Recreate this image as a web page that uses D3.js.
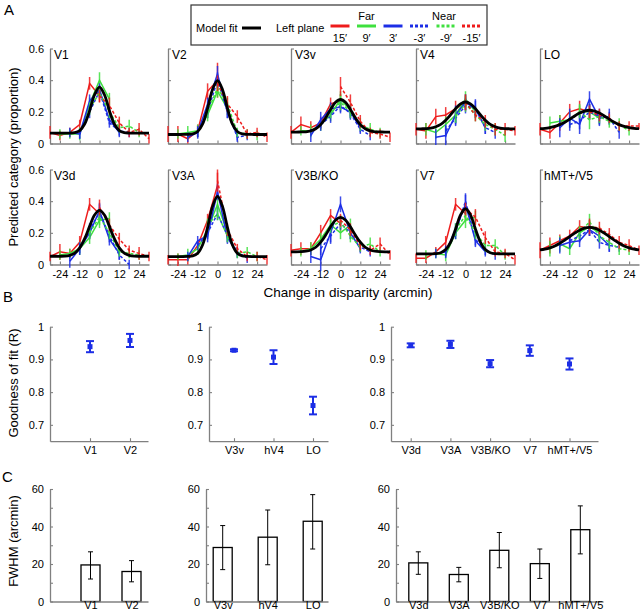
<!DOCTYPE html>
<html><head><meta charset="utf-8">
<script src="https://cdn.jsdelivr.net/npm/d3@7"></script>
<style>body{margin:0;background:#fff}svg{display:block}</style>
</head><body><svg id="c" width="640" height="614"></svg>
<script>
// ---------------- DATA ----------------
const areaNames = ["V1","V2","V3v","V4","LO","V3d","V3A","V3B/KO","V7","hMT+/V5"];
const disparityTicks = [-24,-12,0,12,24];
const propTicks = [0,0.2,0.4,0.6];
const planeLabels = ["15′","9′","3′","-3′","-9′","-15′"];
// x positions (change in disparity) of each plane's test points
const planeX = [
  [-30,-24,-18,-12,-6,0],
  [-24,-18,-12,-6,0,6],
  [-18,-12,-6,0,6,12],
  [-12,-6,0,6,12,18],
  [-6,0,6,12,18,24],
  [0,6,12,18,24,30]
];
// one row per area (order of areaNames)
const far15 = [
  [0.07,0.05,0.07,0.12,0.38,0.30],[0.06,0.06,0.03,0.08,0.33,0.40],[0.07,0.12,0.10,0.13,0.25,0.27],
  [0.09,0.08,0.17,0.18,0.22,0.26],[0.09,0.07,0.13,0.20,0.22,0.20],[0.05,0.08,0.07,0.14,0.38,0.32],
  [0.03,0.03,0.03,0.12,0.28,0.50],[0.09,0.10,0.10,0.20,0.31,0.26],[0.04,0.04,0.08,0.14,0.38,0.32],
  [0.09,0.12,0.15,0.18,0.24,0.23]];
const far15Err = [
  [0.04,0.03,0.03,0.03,0.04,0.04],[0.05,0.05,0.03,0.04,0.05,0.11],[0.04,0.05,0.04,0.04,0.04,0.04],
  [0.04,0.05,0.05,0.05,0.05,0.05],[0.04,0.04,0.05,0.05,0.05,0.05],[0.03,0.05,0.03,0.04,0.04,0.04],
  [0.03,0.04,0.03,0.03,0.04,0.08],[0.04,0.04,0.04,0.05,0.04,0.05],[0.03,0.03,0.03,0.04,0.04,0.04],
  [0.05,0.05,0.04,0.04,0.04,0.05]];
const far9 = [
  [0.06,0.06,0.06,0.25,0.40,0.28],[0.06,0.07,0.08,0.18,0.33,0.22],[0.08,0.08,0.12,0.18,0.28,0.21],
  [0.09,0.07,0.12,0.18,0.28,0.20],[0.13,0.14,0.15,0.20,0.20,0.16],[0.06,0.07,0.10,0.17,0.28,0.29],
  [0.05,0.06,0.10,0.22,0.38,0.20],[0.08,0.10,0.16,0.25,0.20,0.25],[0.06,0.07,0.06,0.20,0.28,0.30],
  [0.10,0.13,0.10,0.20,0.24,0.20]];
const far9Err = [
  [0.03,0.03,0.04,0.04,0.05,0.04],[0.03,0.04,0.04,0.04,0.04,0.04],[0.03,0.04,0.04,0.04,0.05,0.04],
  [0.04,0.04,0.05,0.05,0.05,0.04],[0.04,0.04,0.05,0.05,0.05,0.04],[0.03,0.03,0.04,0.04,0.05,0.04],
  [0.02,0.04,0.04,0.05,0.05,0.04],[0.03,0.04,0.04,0.04,0.04,0.04],[0.03,0.03,0.04,0.04,0.05,0.04],
  [0.05,0.05,0.04,0.04,0.04,0.04]];
const far3 = [
  [0.07,0.06,0.27,0.34,0.15,0.07],[0.04,0.07,0.25,0.44,0.20,0.05],[0.05,0.15,0.22,0.23,0.20,0.10],
  [0.04,0.05,0.18,0.26,0.22,0.10],[0.10,0.16,0.12,0.28,0.16,0.17],[0.02,0.10,0.20,0.34,0.16,0.07],
  [0.05,0.15,0.18,0.46,0.17,0.07],[0.05,0.03,0.20,0.38,0.20,0.10],[0.07,0.08,0.22,0.38,0.15,0.08],
  [0.12,0.14,0.15,0.22,0.18,0.12]];
const far3Err = [
  [0.03,0.03,0.04,0.04,0.03,0.03],[0.03,0.04,0.04,0.05,0.04,0.03],[0.04,0.05,0.04,0.04,0.04,0.03],
  [0.05,0.06,0.06,0.05,0.06,0.04],[0.06,0.06,0.06,0.05,0.05,0.05],[0.04,0.04,0.04,0.05,0.04,0.04],
  [0.03,0.03,0.04,0.05,0.04,0.03],[0.04,0.07,0.06,0.05,0.04,0.03],[0.03,0.04,0.04,0.06,0.04,0.03],
  [0.05,0.04,0.04,0.04,0.04,0.04]];
const near3 = [
  [0.06,0.20,0.33,0.13,0.08,0.07],[0.07,0.20,0.40,0.20,0.04,0.05],[0.12,0.17,0.24,0.19,0.09,0.05],
  [0.08,0.16,0.24,0.22,0.10,0.07],[0.12,0.14,0.20,0.17,0.16,0.07],[0.10,0.22,0.33,0.18,0.06,0.00],
  [0.12,0.20,0.32,0.18,0.08,0.04],[0.10,0.18,0.26,0.20,0.11,0.08],[0.08,0.20,0.40,0.16,0.09,0.06],
  [0.15,0.18,0.22,0.14,0.12,0.11]];
const near3Err = [
  [0.03,0.04,0.04,0.03,0.03,0.03],[0.03,0.04,0.05,0.04,0.03,0.03],[0.04,0.04,0.04,0.04,0.03,0.03],
  [0.04,0.05,0.05,0.05,0.04,0.04],[0.04,0.05,0.05,0.05,0.04,0.04],[0.03,0.04,0.05,0.04,0.03,0.03],
  [0.03,0.04,0.04,0.04,0.03,0.03],[0.04,0.05,0.04,0.04,0.03,0.03],[0.03,0.04,0.05,0.04,0.03,0.03],
  [0.04,0.04,0.04,0.04,0.04,0.03]];
const near9 = [
  [0.22,0.32,0.20,0.10,0.11,0.07],[0.20,0.35,0.25,0.07,0.06,0.05],[0.20,0.26,0.20,0.12,0.09,0.07],
  [0.17,0.25,0.18,0.12,0.09,0.05],[0.20,0.15,0.17,0.14,0.12,0.08],[0.20,0.30,0.20,0.08,0.07,0.06],
  [0.25,0.32,0.18,0.07,0.08,0.05],[0.24,0.27,0.18,0.11,0.13,0.08],[0.22,0.31,0.20,0.12,0.12,0.06],
  [0.20,0.27,0.18,0.14,0.10,0.09]];
const near9Err = [
  [0.04,0.04,0.04,0.03,0.04,0.03],[0.04,0.04,0.04,0.03,0.03,0.03],[0.04,0.05,0.04,0.04,0.04,0.03],
  [0.04,0.05,0.04,0.04,0.04,0.04],[0.04,0.06,0.04,0.04,0.04,0.03],[0.04,0.05,0.04,0.03,0.03,0.03],
  [0.04,0.04,0.04,0.03,0.03,0.03],[0.04,0.04,0.04,0.03,0.04,0.03],[0.04,0.04,0.04,0.04,0.04,0.03],
  [0.04,0.05,0.04,0.04,0.04,0.03]];
const near15 = [
  [0.30,0.24,0.13,0.07,0.09,0.03],[0.38,0.25,0.17,0.06,0.07,0.04],[0.36,0.26,0.14,0.07,0.06,0.04],
  [0.26,0.18,0.14,0.09,0.09,0.08],[0.20,0.18,0.16,0.11,0.11,0.11],[0.36,0.25,0.16,0.09,0.07,0.05],
  [0.53,0.22,0.10,0.05,0.05,0.03],[0.28,0.22,0.12,0.09,0.13,0.06],[0.35,0.30,0.17,0.08,0.07,0.03],
  [0.24,0.23,0.19,0.14,0.12,0.09]];
const near15Err = [
  [0.04,0.05,0.04,0.03,0.04,0.03],[0.05,0.05,0.04,0.03,0.03,0.03],[0.06,0.05,0.04,0.03,0.03,0.03],
  [0.05,0.04,0.04,0.04,0.04,0.03],[0.04,0.04,0.03,0.03,0.03,0.02],[0.05,0.04,0.04,0.03,0.04,0.03],
  [0.07,0.04,0.03,0.03,0.03,0.03],[0.04,0.04,0.03,0.03,0.04,0.03],[0.04,0.05,0.04,0.03,0.03,0.03],
  [0.05,0.04,0.04,0.04,0.04,0.03]];
// model fit sampled every 3 arcmin
const fitX = [-30,-27,-24,-21,-18,-15,-12,-9,-6,-3,0,3,6,9,12,15,18,21,24,27,30];
const modelFit = [
  [0.066,0.066,0.066,0.066,0.066,0.069,0.082,0.123,0.207,0.308,0.356,0.308,0.207,0.123,0.082,0.069,0.066,0.066,0.066,0.066,0.066],
  [0.057,0.057,0.057,0.057,0.058,0.061,0.076,0.124,0.223,0.341,0.397,0.341,0.223,0.124,0.076,0.061,0.058,0.057,0.057,0.057,0.057],
  [0.072,0.072,0.073,0.074,0.080,0.093,0.119,0.162,0.215,0.260,0.278,0.260,0.215,0.162,0.119,0.093,0.080,0.074,0.073,0.072,0.072],
  [0.092,0.093,0.094,0.097,0.106,0.121,0.147,0.182,0.220,0.250,0.262,0.250,0.220,0.182,0.147,0.121,0.106,0.097,0.094,0.093,0.092],
  [0.094,0.096,0.101,0.108,0.119,0.134,0.153,0.174,0.192,0.205,0.210,0.205,0.192,0.174,0.153,0.134,0.119,0.108,0.101,0.096,0.094],
  [0.052,0.052,0.052,0.053,0.058,0.072,0.105,0.163,0.241,0.313,0.342,0.313,0.241,0.163,0.105,0.072,0.058,0.053,0.052,0.052,0.052],
  [0.050,0.050,0.050,0.050,0.051,0.054,0.071,0.125,0.235,0.367,0.430,0.367,0.235,0.125,0.071,0.054,0.051,0.050,0.050,0.050,0.050],
  [0.080,0.080,0.081,0.084,0.092,0.109,0.141,0.186,0.238,0.281,0.298,0.281,0.238,0.186,0.141,0.109,0.092,0.084,0.081,0.080,0.080],
  [0.067,0.067,0.067,0.067,0.068,0.074,0.094,0.142,0.224,0.313,0.352,0.313,0.224,0.142,0.094,0.074,0.068,0.067,0.067,0.067,0.067],
  [0.092,0.097,0.105,0.117,0.134,0.154,0.176,0.198,0.217,0.230,0.235,0.230,0.217,0.198,0.176,0.154,0.134,0.117,0.105,0.097,0.092]
];

// Panel B / C
const catsEarly = ["V1","V2"];
const catsVentral = ["V3v","hV4","LO"];
const catsDorsal = ["V3d","V3A","V3B/KO","V7","hMT+/V5"];
const gofEarly = [0.939,0.958];        const gofEarlyErr = [0.017,0.020];
const gofVentral = [0.928,0.907,0.759]; const gofVentralErr = [0.003,0.021,0.027];
const gofDorsal = [0.943,0.946,0.887,0.927,0.886]; const gofDorsalErr = [0.006,0.011,0.011,0.016,0.017];
const gofTicks = [0.7,0.8,0.9,1];
const fwhmEarly = [19.5,16.0];           const fwhmEarlyLo = [12.0,10.5];  const fwhmEarlyHi = [26.5,21.8];
const fwhmVentral = [28.8,34.3,42.8];    const fwhmVentralLo = [17.0,19.6,28.0]; const fwhmVentralHi = [40.5,48.8,57.0];
const fwhmDorsal = [20.6,14.4,27.3,20.2,38.3]; const fwhmDorsalLo = [14.5,10.5,18.0,12.3,25.4]; const fwhmDorsalHi = [26.5,18.2,36.8,28.0,51.0];
const fwhmTicks = [0,10,20,30,40,50,60];

// ---------------- STYLE / LAYOUT ----------------
const FONT = '"Liberation Sans", Arial, Helvetica, sans-serif';
const GRAY = "#808080";
const RED = "#ee1c1c", GREEN = "#3ee03e", BLUE = "#1c2ee6";
const planeColor = [RED, GREEN, BLUE, BLUE, GREEN, RED];
const planeDash = [null, null, null, "3,2", "3,2", "3,2"];
const planeVals = [far15, far9, far3, near3, near9, near15];
const planeErrs = [far15Err, far9Err, far3Err, near3Err, near9Err, near15Err];

const svg = d3.select("#c");

function styleAxis(g) {
  g.select(".domain").attr("stroke", GRAY).attr("stroke-width", 1.3);
  g.selectAll(".tick line").attr("stroke", GRAY).attr("stroke-width", 1.1);
  g.selectAll("text").attr("font-family", FONT).attr("font-size", 11).attr("fill", "#000");
}

// ---- Panel A ----
const colLeft = [50, 168, 291, 416, 540];
const panelW = 99;
const rowRange = [[143.5, 48.5], [264.5, 169.5]];

areaNames.forEach((name, i) => {
  const col = i % 5, row = Math.floor(i / 5);
  const L = colLeft[col];
  const x = d3.scaleLinear().domain([-30, 30]).range([L, L + panelW]);
  const y = d3.scaleLinear().domain([0, 0.6]).range(rowRange[row]);
  const g = svg.append("g");

  const ya = d3.axisLeft(y).tickValues(propTicks).tickSizeInner(-3).tickSizeOuter(0).tickPadding(6)
    .tickFormat(col === 0 ? (d => d === 0 ? "0" : d3.format(".1f")(d)) : (() => ""));
  g.append("g").attr("transform", `translate(${L},0)`).call(ya).call(styleAxis);
  const xa = d3.axisBottom(x).tickValues(disparityTicks).tickSizeInner(-3).tickSizeOuter(0).tickPadding(6)
    .tickFormat(row === 1 ? (d => String(d)) : (() => ""));
  g.append("g").attr("transform", `translate(0,${y(0)})`).call(xa).call(styleAxis);

  planeVals.forEach((vals, p) => {
    const xs = planeX[p], v = vals[i], e = planeErrs[p][i];
    const pts = xs.map((xx, k) => ({x: xx, v: v[k], e: e[k]}));
    g.append("g").selectAll("line").data(pts).join("line")
      .attr("x1", d => x(d.x)).attr("x2", d => x(d.x))
      .attr("y1", d => y(d.v - d.e)).attr("y2", d => y(d.v + d.e))
      .attr("stroke", planeColor[p]).attr("stroke-width", 1.5).attr("stroke-opacity", 0.85);
    g.append("path").datum(pts)
      .attr("d", d3.line().x(d => x(d.x)).y(d => y(d.v)))
      .attr("fill", "none").attr("stroke", planeColor[p]).attr("stroke-width", 1.5)
      .attr("stroke-dasharray", planeDash[p]);
  });
  g.append("path").datum(fitX.map((xx, k) => [xx, modelFit[i][k]]))
    .attr("d", d3.line().x(d => x(d[0])).y(d => y(d[1])).curve(d3.curveCatmullRom))
    .attr("fill", "none").attr("stroke", "#000").attr("stroke-width", 2.8);

  g.append("text").attr("x", L + 4).attr("y", y(0.6) + 10)
    .attr("font-family", FONT).attr("font-size", 12).text(name);
});

svg.append("text").attr("transform", "translate(18,157) rotate(-90)").attr("text-anchor", "middle")
  .attr("font-family", FONT).attr("font-size", 13).text("Predicted category (proportion)");
svg.append("text").attr("x", 348).attr("y", 297).attr("text-anchor", "middle")
  .attr("font-family", FONT).attr("font-size", 13.5).text("Change in disparity (arcmin)");

// Legend
const lg = svg.append("g");
lg.append("rect").attr("x", 191).attr("y", 5).attr("width", 296).attr("height", 40)
  .attr("fill", "#fff").attr("stroke", "#333").attr("stroke-width", 1.2);
lg.append("text").attr("x", 196).attr("y", 32).attr("font-family", FONT).attr("font-size", 11).text("Model fit");
lg.append("line").attr("x1", 242).attr("x2", 261).attr("y1", 28).attr("y2", 28).attr("stroke", "#000").attr("stroke-width", 3);
lg.append("text").attr("x", 276).attr("y", 32).attr("font-family", FONT).attr("font-size", 11).text("Left plane");
const legX = [340, 366.5, 393, 419.5, 446, 471.5];
planeLabels.forEach((lab, p) => {
  lg.append("line").attr("x1", legX[p] - 9.5).attr("x2", legX[p] + 9.5).attr("y1", 26).attr("y2", 26)
    .attr("stroke", planeColor[p]).attr("stroke-width", 3).attr("stroke-dasharray", planeDash[p]);
  lg.append("text").attr("x", legX[p]).attr("y", 42).attr("text-anchor", "middle")
    .attr("font-family", FONT).attr("font-size", 11).text(lab);
});
lg.append("text").attr("x", 366.5).attr("y", 20).attr("text-anchor", "middle").attr("font-family", FONT).attr("font-size", 11).text("Far");
lg.append("text").attr("x", 444).attr("y", 20).attr("text-anchor", "middle").attr("font-family", FONT).attr("font-size", 11).text("Near");

[["A", 4, 15], ["B", 3, 302], ["C", 2, 482]].forEach(([t, xx, yy]) =>
  svg.append("text").attr("x", xx).attr("y", yy).attr("font-family", FONT).attr("font-size", 15).text(t));

// ---- Panel B ----
const yB = d3.scaleLinear().domain([0.65, 1]).range([441.2, 326.7]);
const bLayout = [
  {axisL: 50, axisR: 148, first: 90, step: 40},
  {axisL: 209, axisR: 328, first: 234, step: 39.5},
  {axisL: 391, axisR: 598, first: 410.7, step: 39.7}
];
const bData = [
  [catsEarly, gofEarly, gofEarlyErr],
  [catsVentral, gofVentral, gofVentralErr],
  [catsDorsal, gofDorsal, gofDorsalErr]
];
bData.forEach(([cats, vals, errs], j) => {
  const lay = bLayout[j];
  const x = d3.scaleLinear().domain([(lay.axisL - lay.first) / lay.step, (lay.axisR - lay.first) / lay.step]).range([lay.axisL, lay.axisR]);
  const g = svg.append("g");
  g.append("g").attr("transform", `translate(${lay.axisL},0)`)
    .call(d3.axisLeft(yB).tickValues(gofTicks).tickSizeInner(-3).tickSizeOuter(0).tickPadding(6)
      .tickFormat(d => d === 1 ? "1" : d3.format(".1f")(d))).call(styleAxis);
  g.append("g").attr("transform", `translate(0,${yB(0.65)})`)
    .call(d3.axisBottom(x).tickValues(cats.map((c, k) => k)).tickSizeInner(-3).tickSizeOuter(0).tickPadding(5)
      .tickFormat(k => cats[k])).call(styleAxis);
  const pts = vals.map((v, k) => ({k, v, e: errs[k]}));
  const eb = g.append("g").attr("stroke", BLUE).attr("stroke-width", 2);
  pts.forEach(d => {
    const cx = x(d.k);
    eb.append("line").attr("x1", cx).attr("x2", cx).attr("y1", yB(d.v - d.e)).attr("y2", yB(d.v + d.e));
    eb.append("line").attr("x1", cx - 4).attr("x2", cx + 4).attr("y1", yB(d.v - d.e)).attr("y2", yB(d.v - d.e));
    eb.append("line").attr("x1", cx - 4).attr("x2", cx + 4).attr("y1", yB(d.v + d.e)).attr("y2", yB(d.v + d.e));
  });
  g.append("g").selectAll("rect").data(pts).join("rect")
    .attr("x", d => x(d.k) - 2.5).attr("y", d => yB(d.v) - 2.5).attr("width", 5).attr("height", 5).attr("fill", BLUE);
});
svg.append("text").attr("transform", "translate(18,383) rotate(-90)").attr("text-anchor", "middle")
  .attr("font-family", FONT).attr("font-size", 13).text("Goodness of fit (R)");

// ---- Panel C ----
const yC = d3.scaleLinear().domain([0, 60]).range([601.5, 489]);
const cLayout = [
  {axisL: 50, axisR: 148, first: 90.5, step: 41},
  {axisL: 206, axisR: 328, first: 222.7, step: 45},
  {axisL: 396, axisR: 603, first: 418.3, step: 40.5}
];
const cData = [
  [catsEarly, fwhmEarly, fwhmEarlyLo, fwhmEarlyHi],
  [catsVentral, fwhmVentral, fwhmVentralLo, fwhmVentralHi],
  [catsDorsal, fwhmDorsal, fwhmDorsalLo, fwhmDorsalHi]
];
cData.forEach(([cats, vals, lo, hi], j) => {
  const lay = cLayout[j];
  const x = d3.scaleLinear().domain([(lay.axisL - lay.first) / lay.step, (lay.axisR - lay.first) / lay.step]).range([lay.axisL, lay.axisR]);
  const g = svg.append("g");
  const pts = vals.map((v, k) => ({k, v, lo: lo[k], hi: hi[k]}));
  g.append("g").selectAll("rect").data(pts).join("rect")
    .attr("x", d => x(d.k) - 9.5).attr("y", d => yC(d.v)).attr("width", 19).attr("height", d => yC(0) - yC(d.v))
    .attr("fill", "#fff").attr("stroke", "#000").attr("stroke-width", 1.3);
  const eb = g.append("g").attr("stroke", "#000").attr("stroke-width", 1);
  pts.forEach(d => {
    const cx = x(d.k);
    eb.append("line").attr("x1", cx).attr("x2", cx).attr("y1", yC(d.lo)).attr("y2", yC(d.hi));
    eb.append("line").attr("x1", cx - 2.5).attr("x2", cx + 2.5).attr("y1", yC(d.lo)).attr("y2", yC(d.lo));
    eb.append("line").attr("x1", cx - 2.5).attr("x2", cx + 2.5).attr("y1", yC(d.hi)).attr("y2", yC(d.hi));
  });
  g.append("g").attr("transform", `translate(${lay.axisL},0)`)
    .call(d3.axisLeft(yC).tickValues(fwhmTicks).tickSizeInner(-3).tickSizeOuter(0).tickPadding(6)
      .tickFormat(d => d % 20 === 0 ? String(d) : "")).call(styleAxis);
  const xg = g.append("g").attr("transform", `translate(0,${yC(0)})`)
    .call(d3.axisBottom(x).tickValues(cats.map((c, k) => k)).tickSize(0).tickPadding(0)
      .tickFormat(k => cats[k])).call(styleAxis);
  xg.selectAll("text").attr("dy", "0.68em");
});
svg.append("text").attr("transform", "translate(18,541) rotate(-90)").attr("text-anchor", "middle")
  .attr("font-family", FONT).attr("font-size", 13).text("FWHM (arcmin)");
</script></body></html>
